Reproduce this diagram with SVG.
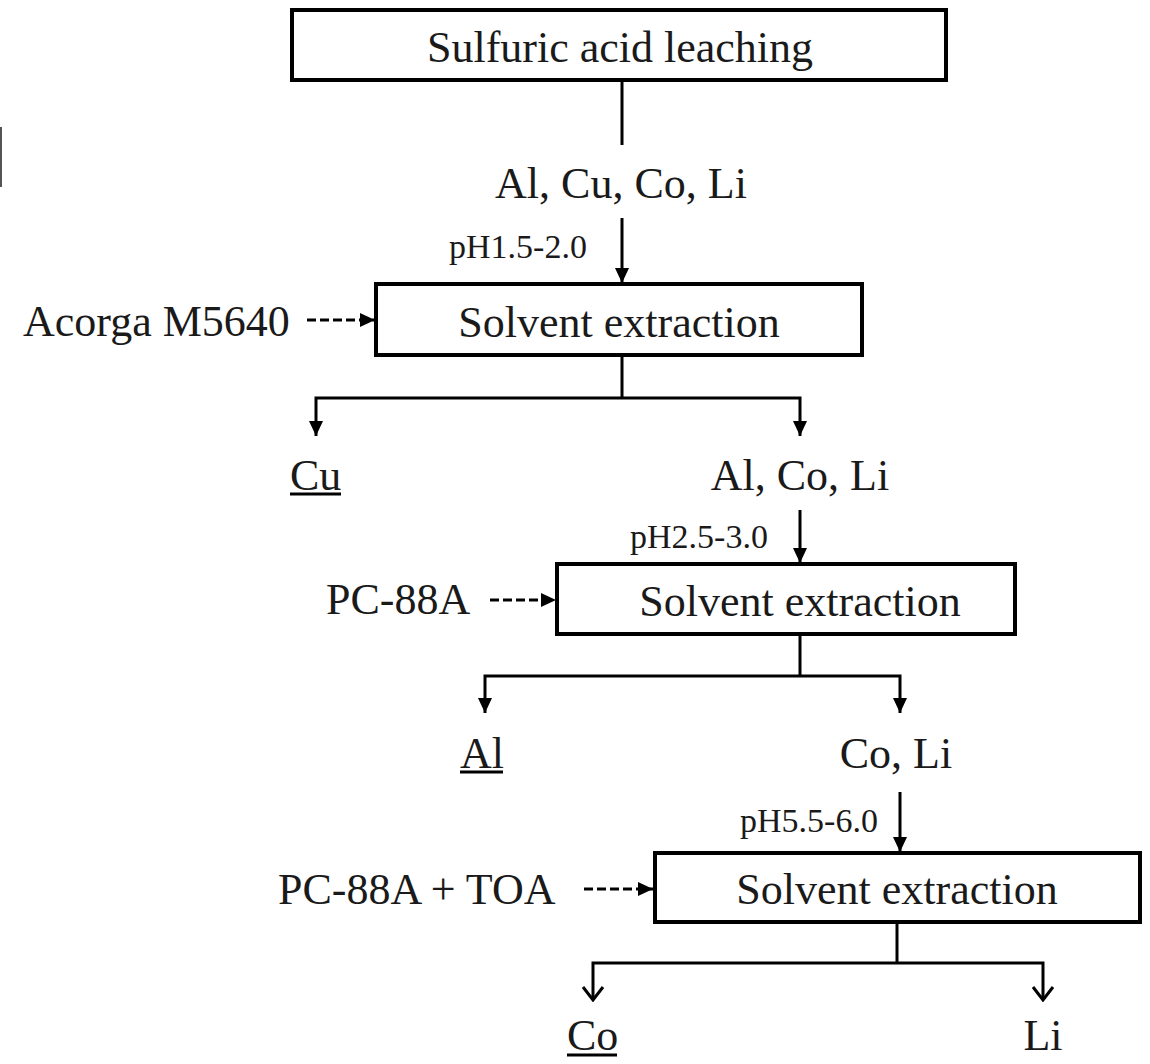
<svg xmlns="http://www.w3.org/2000/svg" width="1150" height="1064" viewBox="0 0 1150 1064">
<defs>
<style>
.box{fill:#fff;stroke:#000;stroke-width:4}
.t{font-family:"Liberation Serif","Times New Roman",serif;font-size:44px;fill:#1a1a1a}
.s{font-family:"Liberation Serif","Times New Roman",serif;font-size:34px;fill:#1a1a1a}
.c{fill:none;stroke:#000;stroke-width:3}
.d{fill:none;stroke:#000;stroke-width:3;stroke-dasharray:9 4}
.u{stroke:#000;stroke-width:3}
</style>
<marker id="fa" markerUnits="userSpaceOnUse" markerWidth="16" markerHeight="16" viewBox="0 0 16 16" refX="15" refY="8" orient="auto">
<path d="M0,1 L15,8 L0,15 Z" fill="#000"/>
</marker>
<marker id="oa" markerUnits="userSpaceOnUse" markerWidth="16" markerHeight="24" viewBox="0 0 16 24" refX="14" refY="12" orient="auto">
<path d="M1,2 L14,12 L1,22" fill="none" stroke="#000" stroke-width="3"/>
</marker>
</defs>
<rect width="1150" height="1064" fill="#fff"/>
<line x1="1" y1="127" x2="1" y2="187" stroke="#555" stroke-width="2"/>

<g id="n-leach">
<rect class="box" x="292" y="10" width="654" height="70"/>
<text class="t" x="620" y="62" text-anchor="middle">Sulfuric acid leaching</text>
</g>
<g id="n-mix1"><text class="t" x="621" y="198" text-anchor="middle">Al, Cu, Co, Li</text></g>
<g id="n-ph1"><text class="s" x="449" y="258">pH1.5-2.0</text></g>
<g id="n-sx1">
<rect class="box" x="376" y="284" width="486" height="71"/>
<text class="t" x="619" y="337" text-anchor="middle">Solvent extraction</text>
</g>
<g id="n-acorga"><text class="t" x="23" y="336">Acorga M5640</text></g>
<g id="n-cu"><text class="t" x="290" y="490">Cu</text><line class="u" x1="290" y1="494" x2="341" y2="494"/></g>
<g id="n-mix2"><text class="t" x="800" y="490" text-anchor="middle">Al, Co, Li</text></g>
<g id="n-ph2"><text class="s" x="630" y="548">pH2.5-3.0</text></g>
<g id="n-sx2">
<rect class="box" x="557" y="564" width="458" height="70"/>
<text class="t" x="800" y="616" text-anchor="middle">Solvent extraction</text>
</g>
<g id="n-pc88a"><text class="t" x="326" y="614">PC-88A</text></g>
<g id="n-al"><text class="t" x="460" y="768">Al</text><line class="u" x1="460" y1="772" x2="503" y2="772"/></g>
<g id="n-mix3"><text class="t" x="896" y="768" text-anchor="middle">Co, Li</text></g>
<g id="n-ph3"><text class="s" x="740" y="832">pH5.5-6.0</text></g>
<g id="n-sx3">
<rect class="box" x="655" y="853" width="485" height="69"/>
<text class="t" x="897" y="904" text-anchor="middle">Solvent extraction</text>
</g>
<g id="n-pctoa"><text class="t" x="278" y="904">PC-88A + TOA</text></g>
<g id="n-co"><text class="t" x="567" y="1050">Co</text><line class="u" x1="567" y1="1055" x2="617" y2="1055"/></g>
<g id="n-li"><text class="t" x="1043" y="1050" text-anchor="middle">Li</text></g>

<g id="connectors">
<line class="c" x1="622" y1="80" x2="622" y2="145"/>
<line class="c" x1="622" y1="218" x2="622" y2="283" marker-end="url(#fa)"/>
<line class="d" x1="307" y1="320" x2="375" y2="320" marker-end="url(#fa)"/>
<line class="c" x1="622" y1="355" x2="622" y2="398"/>
<path class="c" d="M622,398 H316 V436" marker-end="url(#fa)"/>
<path class="c" d="M622,398 H800 V436" marker-end="url(#fa)"/>
<line class="c" x1="800" y1="510" x2="800" y2="563" marker-end="url(#fa)"/>
<line class="d" x1="490" y1="600" x2="556" y2="600" marker-end="url(#fa)"/>
<line class="c" x1="800" y1="634" x2="800" y2="676"/>
<path class="c" d="M800,676 H485 V713" marker-end="url(#fa)"/>
<path class="c" d="M800,676 H900 V713" marker-end="url(#fa)"/>
<line class="c" x1="900" y1="792" x2="900" y2="852" marker-end="url(#fa)"/>
<line class="d" x1="584" y1="889" x2="653" y2="889" marker-end="url(#fa)"/>
<line class="c" x1="897" y1="922" x2="897" y2="963"/>
<path class="c" d="M897,963 H593 V1000" marker-end="url(#oa)"/>
<path class="c" d="M897,963 H1043 V1000" marker-end="url(#oa)"/>
</g>
</svg>
